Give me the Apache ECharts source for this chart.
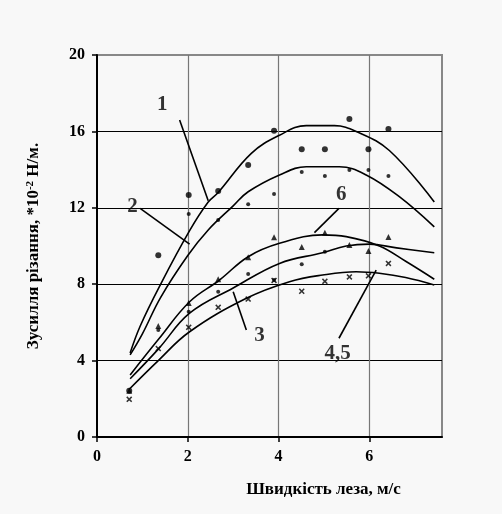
<!DOCTYPE html>
<html><head><meta charset="utf-8">
<script src="https://cdn.jsdelivr.net/npm/echarts@6/dist/echarts.min.js"></script>
<style>html,body{margin:0;padding:0;background:#f8f8f8}#c{width:502px;height:514px}</style>
</head><body><div id="c"></div>
<script>
// ---- data ----
const xTicks = [0, 2, 4, 6];
const yTicks = [0, 4, 8, 12, 16, 20];
const xTitle = 'Швидкість леза, м/с';
const yTitleA = 'Зусилля різання, *10';
const yTitleSup = '-2';
const yTitleB = ' Н/м.';

// measured points (x = blade speed)
const ptX = [0.71, 1.35, 2.02, 2.67, 3.33, 3.90, 4.51, 5.02, 5.56, 5.98, 6.42];
const pts1 = [2.42, 9.52, 12.67, 12.88, 14.24, 16.03, 15.07, 15.07, 16.65, 15.07, 16.13]; // large dots
const pts2 = [null, null, 11.68, 11.36, 12.18, 12.72, 13.88, 13.66, 13.98, 13.98, 13.66]; // small dots
const pts6 = [2.42, 5.81, 7.02, 8.26, 9.41, 10.46, 9.95, 10.70, 10.05, 9.74, 10.47]; // triangles
const pts3 = [null, 5.60, 6.56, 7.60, 8.53, 8.22, 9.05, 9.70, null, null, null]; // small dots
const pts45 = [1.97, 4.63, 5.74, 6.79, 7.22, 8.20, 7.63, 8.15, 8.38, 8.44, 9.09]; // crosses

// fitted curves
const c1x = [0.73, 0.95, 1.38, 2.04, 2.45, 2.67, 3.40, 4.02, 4.61, 5.23, 5.71, 6.44, 7.43];
const c1y = [4.4, 5.8, 7.9, 10.8, 12.3, 12.8, 14.85, 15.8, 16.3, 16.3, 16.0, 15.0, 12.3];
const c2x = [0.73, 1.0, 1.4, 2.0, 2.45, 3.0, 3.33, 4.02, 4.61, 5.34, 5.93, 6.66, 7.43];
const c2y = [4.3, 5.4, 7.3, 9.5, 10.84, 12.1, 12.84, 13.72, 14.15, 14.15, 13.72, 12.58, 11.0];
const c6x = [0.73, 1.35, 2.04, 2.70, 3.33, 4.02, 4.97, 5.49, 6.22, 6.8, 7.43];
const c6y = [3.25, 5.1, 7.08, 8.22, 9.44, 10.14, 10.58, 10.49, 10.0, 9.2, 8.26];
const c3x = [0.73, 1.35, 2.04, 3.0, 4.02, 4.97, 5.49, 6.0, 6.6, 7.43];
const c3y = [3.05, 4.6, 6.48, 7.8, 9.09, 9.65, 10.0, 10.1, 9.9, 9.65];
const c45x = [0.71, 1.35, 2.04, 3.29, 4.24, 4.97, 5.71, 6.22, 6.8, 7.43];
const c45y = [2.5, 4.0, 5.51, 7.26, 8.13, 8.48, 8.65, 8.57, 8.35, 7.96];

// curve labels and their leader lines (data units)
const labNames = ['1', '2', '6', '3', '4,5'];
const labX = [1.44, 0.78, 5.38, 3.58, 5.30];
const labY = [17.38, 12.06, 12.67, 5.29, 4.35];
const leadFromX = [1.82, 0.95, 5.33, 3.29, 5.33];
const leadFromY = [16.6, 11.97, 11.97, 5.6, 5.17];
const leadToX = [2.45, 2.04, 4.79, 3.0, 6.15];
const leadToY = [12.37, 10.1, 10.7, 7.61, 8.74];

// ---- chart ----
const font = '"Liberation Serif", "Times New Roman", serif';
const zip = (xs, ys) => xs.map((x, i) => [x, ys[i]]);
const crossPath = 'path://M0,1.8 L1.8,0 L5,3.2 L8.2,0 L10,1.8 L6.8,5 L10,8.2 L8.2,10 L5,6.8 L1.8,10 L0,8.2 L3.2,5Z';

function curve(xs, ys) {
  return { type: 'line', data: zip(xs, ys), smooth: 0.4, showSymbol: false, symbol: 'none',
    lineStyle: { color: '#000', width: 1.6 }, z: 3, silent: true };
}
function scatter(ys, sym, size) {
  return { type: 'scatter', data: ptX.map((x, i) => ys[i] == null ? null : [x, ys[i]]).filter(d => d),
    symbol: sym, symbolSize: size, itemStyle: { color: '#000' }, z: 4, silent: true };
}

const chart = echarts.init(document.getElementById('c'), null, { renderer: 'canvas' });
chart.setOption({
  backgroundColor: '#f8f8f8',
  animation: false,
  grid: { left: 97, top: 55, right: 60, bottom: 77, show: true, borderColor: '#888', borderWidth: 2, backgroundColor: 'transparent' },
  xAxis: {
    type: 'value', min: 0, max: 7.6, interval: 2,
    axisLine: { lineStyle: { color: '#000', width: 2 } },
    axisTick: { show: true, length: 5, lineStyle: { color: '#000', width: 1.5 }, customValues: xTicks },
    axisLabel: { customValues: xTicks, margin: 12, color: '#000', fontFamily: font, fontWeight: 'bold', fontSize: 16 },
    splitLine: { show: true, showMinLine: false, lineStyle: { color: '#777', width: 1.2 } },
    name: xTitle, nameLocation: 'middle', nameGap: 44,
    nameTextStyle: { color: '#000', fontFamily: font, fontWeight: 'bold', fontSize: 17, padding: [0, 0, 0, 108] }
  },
  yAxis: {
    type: 'value', min: 0, max: 20, interval: 4,
    axisLine: { lineStyle: { color: '#000', width: 2 } },
    axisTick: { show: true, length: 5, lineStyle: { color: '#000', width: 1.5 } },
    axisLabel: { margin: 12, color: '#000', fontFamily: font, fontWeight: 'bold', fontSize: 16,
      formatter: v => yTicks.indexOf(v) >= 0 ? String(v) : '' },
    splitLine: { show: true, showMinLine: false, showMaxLine: false, lineStyle: { color: '#000', width: 1.2 } },
    name: '{a|' + yTitleA + '}{s|' + yTitleSup + '}{a|' + yTitleB + '}',
    nameLocation: 'middle', nameGap: 55, nameRotate: 90,
    nameTextStyle: { rich: {
      a: { color: '#000', fontFamily: font, fontWeight: 'bold', fontSize: 17 },
      s: { color: '#000', fontFamily: font, fontWeight: 'bold', fontSize: 11, verticalAlign: 'top', padding: [0, 0, 6, 0] }
    } }
  },
  series: [
    curve(c1x, c1y), curve(c2x, c2y), curve(c6x, c6y), curve(c3x, c3y), curve(c45x, c45y),
    scatter(pts1, 'circle', 6),
    scatter(pts2, 'circle', 4),
    scatter(pts6, 'triangle', 6),
    scatter(pts3, 'circle', 4),
    scatter(pts45, crossPath, 6),
    { type: 'lines', coordinateSystem: 'cartesian2d', silent: true, z: 5,
      data: labNames.map((n, i) => ({ coords: [[leadFromX[i], leadFromY[i]], [leadToX[i], leadToY[i]]] })),
      lineStyle: { color: '#000', width: 1.6, opacity: 1 } },
    { type: 'scatter', silent: true, z: 6, symbolSize: 1, itemStyle: { color: 'rgba(0,0,0,0)' },
      data: labNames.map((n, i) => ({ value: [labX[i], labY[i]], name: n })),
      label: { show: true, position: 'inside', formatter: p => p.name, color: '#000',
        fontFamily: font, fontWeight: 'bold', fontSize: 21 } }
  ]
});
</script></body></html>
